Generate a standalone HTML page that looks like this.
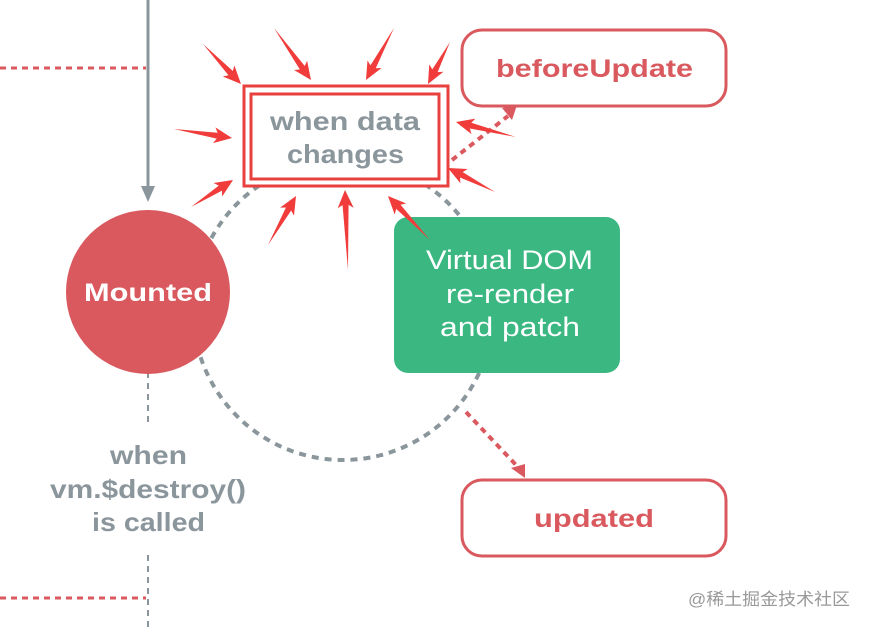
<!DOCTYPE html>
<html><head><meta charset="utf-8"><style>
html,body{margin:0;padding:0;background:#fff;width:869px;height:628px;overflow:hidden}
svg{display:block}
.t{font-family:"Liberation Sans",sans-serif;font-weight:bold}
</style></head><body>
<svg id="s" width="869" height="628" viewBox="0 0 869 628">
<line x1="0" y1="68" x2="146" y2="68" stroke="#d9595e" stroke-width="3" stroke-dasharray="6,5"/>
<line x1="0" y1="598" x2="146" y2="598" stroke="#d9595e" stroke-width="3" stroke-dasharray="6,5"/>
<line x1="148" y1="0" x2="148" y2="190" stroke="#8a969c" stroke-width="3"/>
<polygon points="141,186 155,186 148,202" fill="#8a969c"/>
<line x1="148" y1="372" x2="148" y2="425" stroke="#8a969c" stroke-width="2" stroke-dasharray="6,5"/>
<line x1="148" y1="555" x2="148" y2="628" stroke="#8a969c" stroke-width="2" stroke-dasharray="6,5"/>
<circle cx="343" cy="310" r="150" fill="none" stroke="#8a969c" stroke-width="4" stroke-dasharray="7,6"/>
<circle cx="148" cy="292" r="82" fill="#d9595e"/>
<text class="t" x="84" y="301" font-size="25" fill="#fff" textLength="128" lengthAdjust="spacingAndGlyphs">Mounted</text>
<text class="t" x="110" y="464" font-size="26" fill="#8a969c" textLength="77" lengthAdjust="spacingAndGlyphs">when</text>
<text class="t" x="50" y="498" font-size="26" fill="#8a969c" textLength="196" lengthAdjust="spacingAndGlyphs">vm.$destroy()</text>
<text class="t" x="92" y="531" font-size="26" fill="#8a969c" textLength="113" lengthAdjust="spacingAndGlyphs">is called</text>
<rect x="394" y="217" width="226" height="156" rx="14" fill="#3bb882"/>
<g font-family="Liberation Sans,sans-serif" font-size="27" fill="#fff">
<text x="426" y="269" textLength="167" lengthAdjust="spacingAndGlyphs">Virtual DOM</text>
<text x="446" y="303" textLength="128" lengthAdjust="spacingAndGlyphs">re-render</text>
<text x="440" y="336" textLength="140" lengthAdjust="spacingAndGlyphs">and patch</text>
</g>
<rect x="243" y="85" width="205" height="102" fill="#fff"/>
<rect x="462" y="30" width="264" height="76" rx="20" fill="#fff" stroke="#d9595e" stroke-width="3"/>
<text class="t" x="496" y="77" font-size="25" fill="#d9595e" textLength="197" lengthAdjust="spacingAndGlyphs">beforeUpdate</text>
<rect x="462" y="480" width="264" height="76" rx="20" fill="#fff" stroke="#d9595e" stroke-width="3"/>
<text class="t" x="534" y="527" font-size="25" fill="#d9595e" textLength="120" lengthAdjust="spacingAndGlyphs">updated</text>
<line x1="452" y1="160" x2="508" y2="116" stroke="#d9595e" stroke-width="4" stroke-dasharray="6,5"/>
<polygon points="502,108 517,105 512,120" fill="#d9595e"/>
<line x1="466" y1="412" x2="518" y2="467" stroke="#d9595e" stroke-width="4" stroke-dasharray="6,5"/>
<polygon points="511,468 525,464 525,478" fill="#d9595e"/>
<rect x="244" y="86" width="204" height="100" fill="none" stroke="#e8403f" stroke-width="3"/>
<rect x="251" y="94" width="188" height="85" fill="none" stroke="#e8403f" stroke-width="3"/>
<text class="t" x="270" y="130" font-size="26" fill="#8a969c" textLength="150" lengthAdjust="spacingAndGlyphs">when data</text>
<text class="t" x="287" y="163" font-size="26" fill="#8a969c" textLength="117" lengthAdjust="spacingAndGlyphs">changes</text>
<g id="arr" fill="#f03c3a"></g>
<text x="688" y="605" font-family="Liberation Sans,'Noto Sans CJK SC',sans-serif" font-size="17" fill="#999" textLength="162" lengthAdjust="spacingAndGlyphs">@稀土掘金技术社区</text>
</svg>
<script>
var A=[[203,44,241,84],[274,28,311,80],[394,28,366,80],[450,42,428,84],[174,129,232,138],[516,137,456,122],[191,207,233,180],[495,192,448,168],[268,245,296,196],[348,270,345,190],[430,240,388,196]];
var g=document.getElementById('arr'),h='';
A.forEach(function(a){var dx=a[2]-a[0],dy=a[3]-a[1],L=Math.sqrt(dx*dx+dy*dy),ang=Math.atan2(dy,dx)*180/Math.PI;
h+='<polygon transform="translate('+a[2]+','+a[3]+') rotate('+ang+')" points="'+(-L)+',0 -15,-3 -18,-8 0,0 -18,8 -15,3"/>';});
g.innerHTML=h;
</script>
</body></html>
